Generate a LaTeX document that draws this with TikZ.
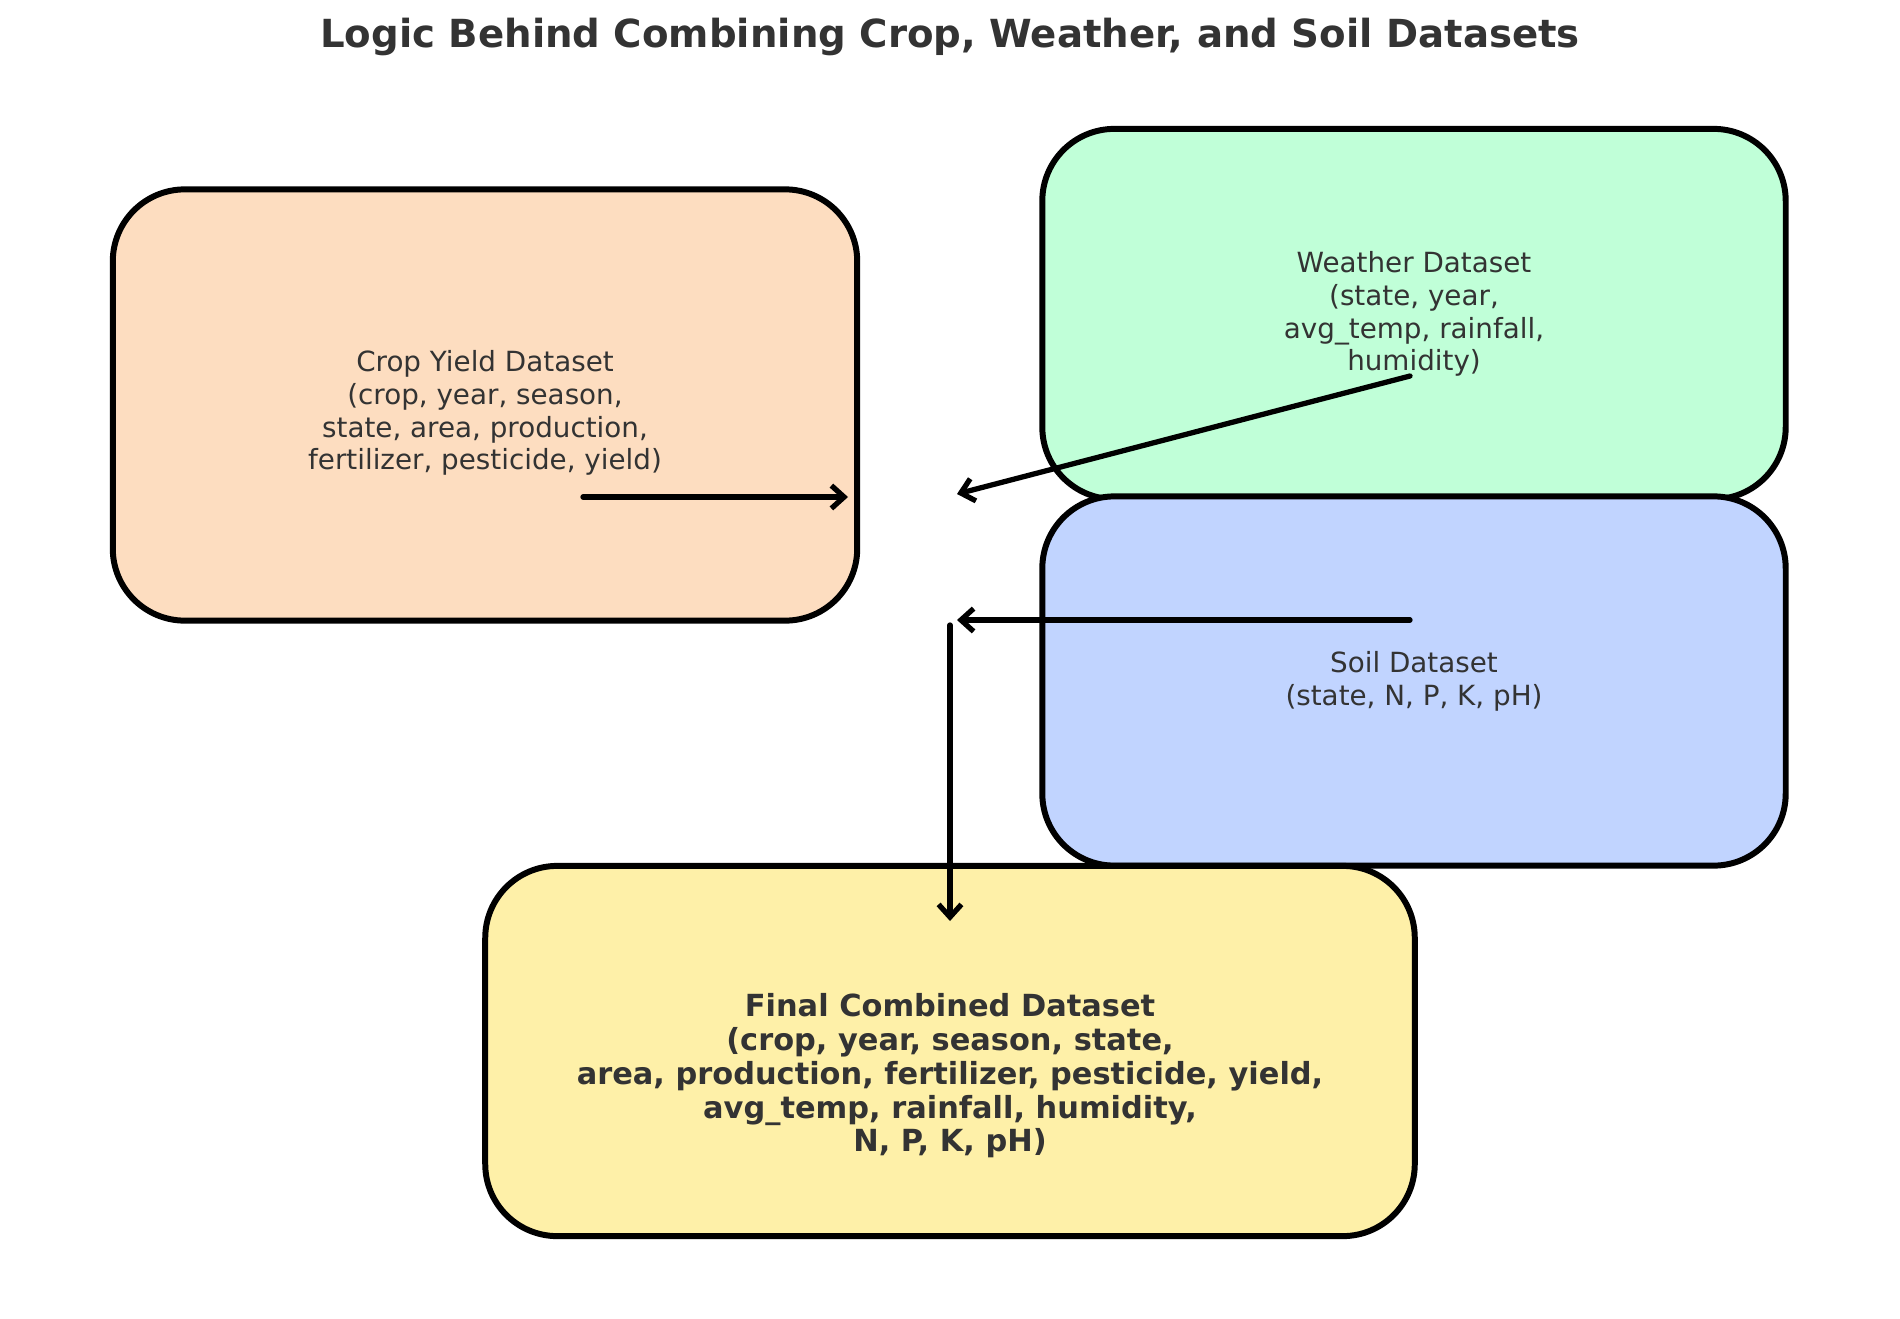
\documentclass[tikz,border=0pt]{standalone}
\usepackage{fontspec}
\setmainfont{DejaVu Sans}
\usetikzlibrary{arrows.meta,positioning,calc}

\begin{document}
\begin{tikzpicture}
[x=0.01cm,y=-0.01cm,line cap=round,
% Styles
dataset/.style={draw=black,line width=1.7pt,rounded corners=0.72cm,
  text=textgray,align=center,inner sep=0pt,
  font=\fontsize{7.9}{9.3}\selectfont},
inner text/.style={text=textgray,align=center,font=\fontsize{7.9}{9.3}\selectfont},
merge arrow/.style={-{Straight Barb[length=3.6pt,width=6.5pt]},line width=1.5pt},
title text/.style={text=textgray,font=\fontsize{11}{14}\selectfont\bfseries}]
% Colors
\definecolor{textgray}{HTML}{333333}
\definecolor{cropcolor}{HTML}{FDDDC0}
\definecolor{weathercolor}{HTML}{C0FFD8}
\definecolor{soilcolor}{HTML}{C1D4FF}
\definecolor{finalcolor}{HTML}{FEF0A8}
% The graphic
\useasboundingbox (0,0) rectangle (1900,1318);
\node[title text] (title) at (950,37) {Logic Behind Combining Crop, Weather, and Soil Datasets};
\node[dataset,fill=cropcolor,minimum width=7.44cm,minimum height=4.31cm,
  label={[name=croptext,inner text,yshift=-0.08cm]center:Crop Yield Dataset\\(crop, year, season,\\state, area, production,\\fertilizer, pesticide, yield)}] (crop) at (485,405) {};
\node[dataset,fill=weathercolor,minimum width=7.43cm,minimum height=3.70cm] (weather) at (1414,314)
  {Weather Dataset\\(state, year,\\avg\_temp, rainfall,\\humidity)};
\node[dataset,fill=soilcolor,minimum width=7.43cm,minimum height=3.69cm] (soil) at (1414,681)
  {Soil Dataset\\(state, N, P, K, pH)};
\node[dataset,fill=finalcolor,minimum width=9.29cm,minimum height=3.70cm,
  label={[name=finaltext,inner text,yshift=-0.25cm,
  font=\fontsize{8.65}{9.6}\selectfont\bfseries]center:Final Combined Dataset\\(crop, year, season, state,\\area, production, fertilizer, pesticide, yield,\\avg\_temp, rainfall, humidity,\\N, P, K, pH)}] (final) at (950,1051) {};
% Arrows
\coordinate (crop out) at (583,497);
\coordinate (crop in) at (848,497);
\coordinate (weather out) at (1410,376);
\coordinate (weather in) at (957,494);
\coordinate (soil out) at (1410,620);
\coordinate (soil in) at (957,620);
\coordinate (merge out) at (950,625);
\coordinate (final in) at (950,921);
\draw[merge arrow] (crop out) -- (crop in);
\draw[merge arrow] (weather out) -- (weather in);
\draw[merge arrow] (soil out) -- (soil in);
\draw[merge arrow] (merge out) -- (final in);
\end{tikzpicture}
\end{document}
